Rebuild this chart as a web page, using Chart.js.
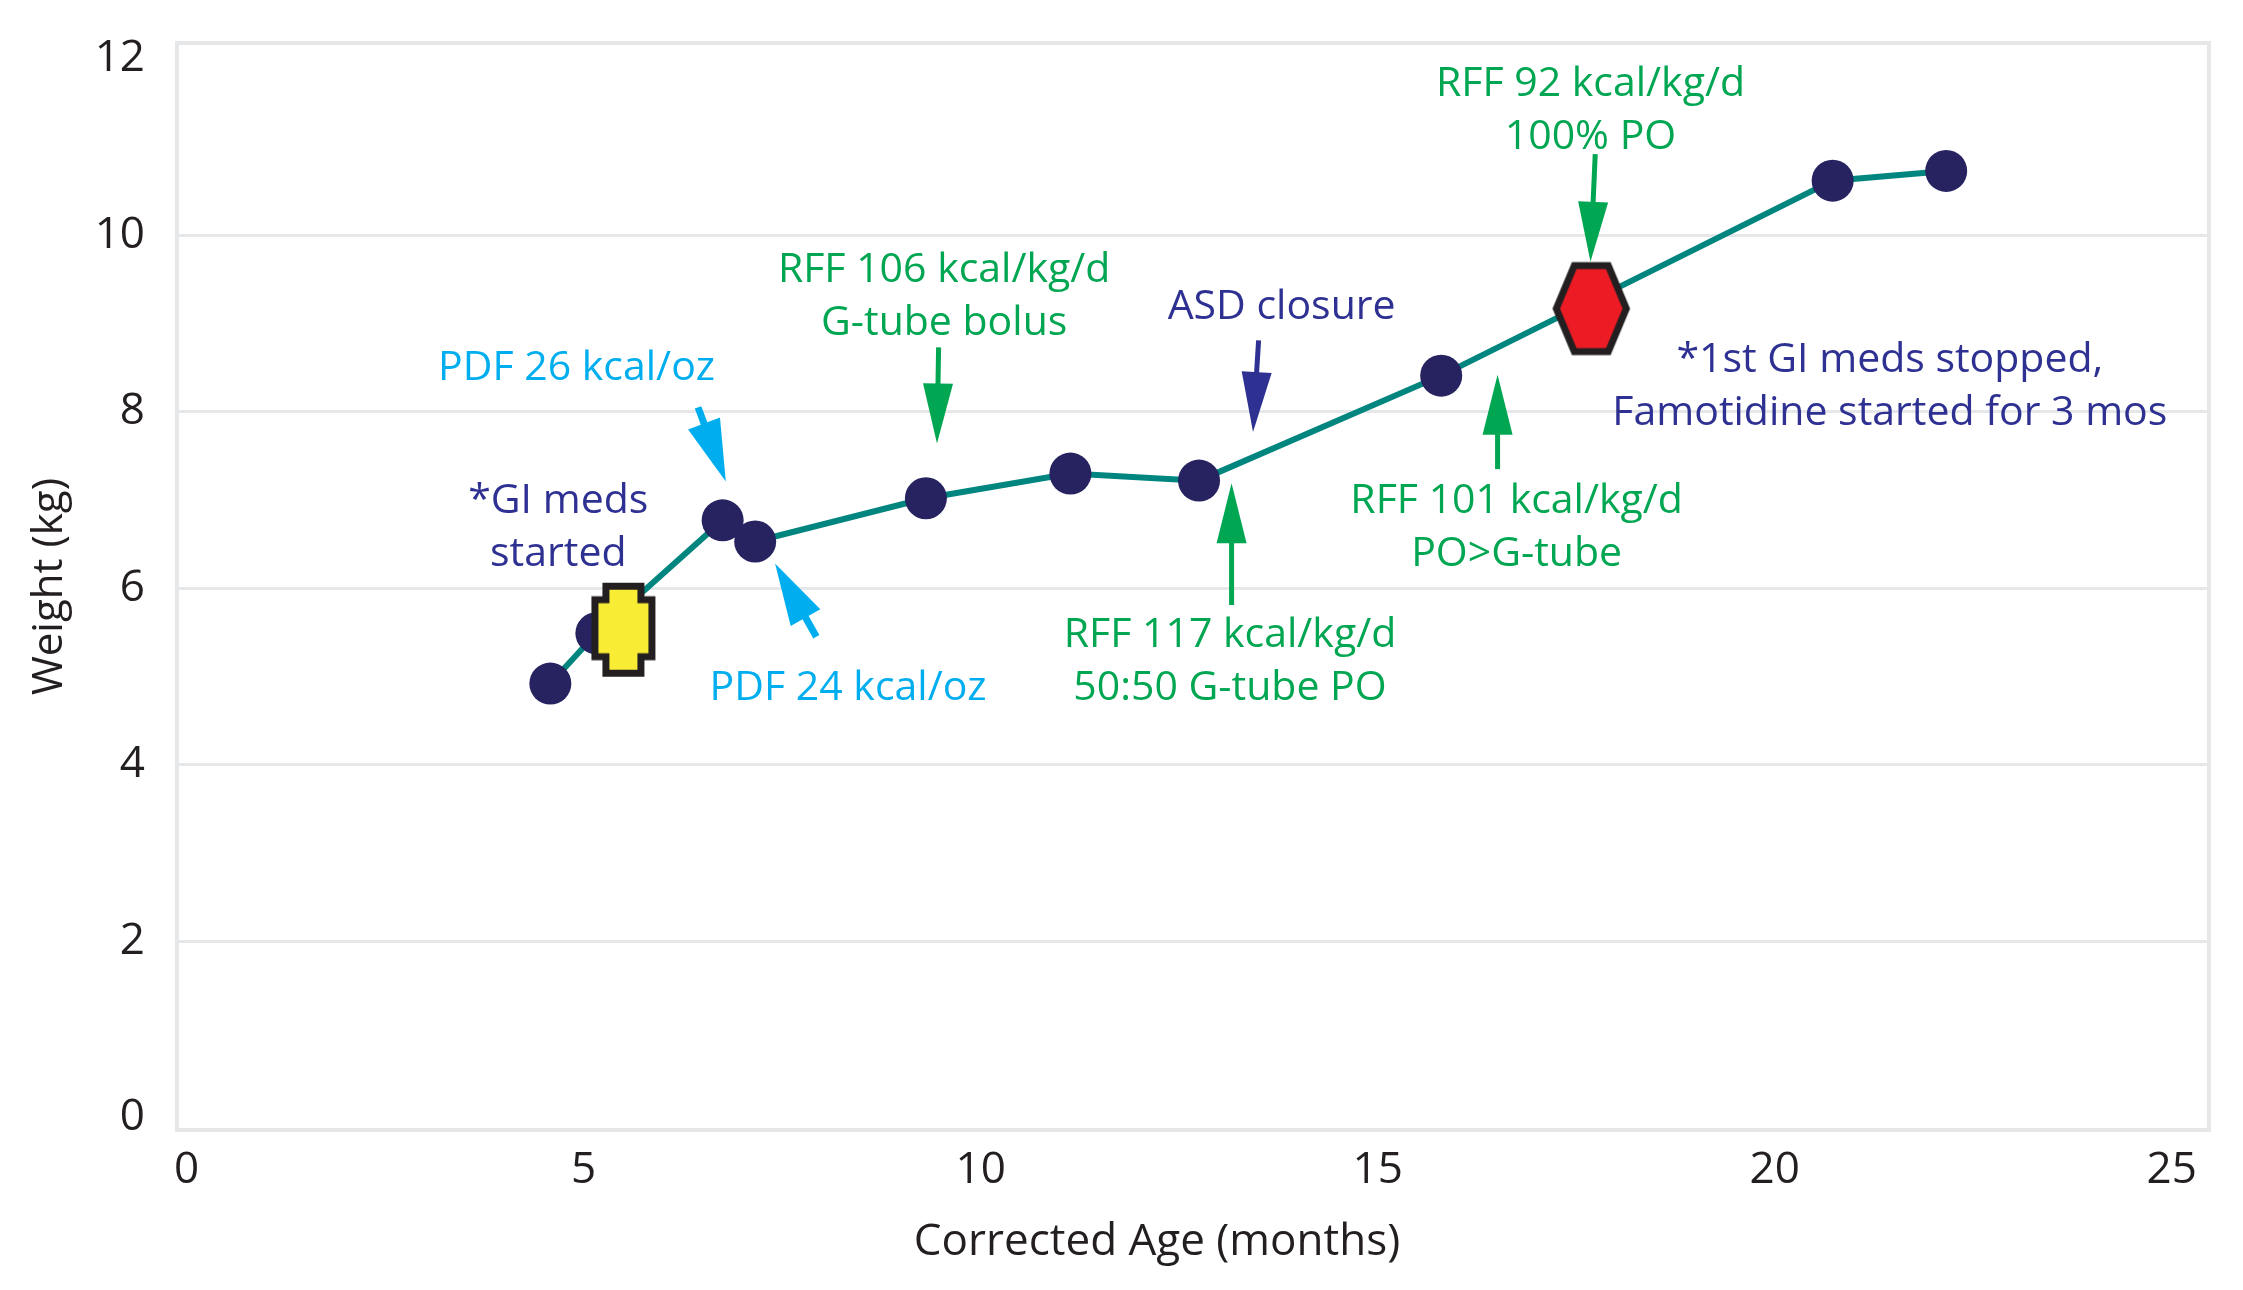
<!DOCTYPE html>
<html>
<head>
<meta charset="utf-8">
<title>Weight vs corrected age</title>
<script src="https://cdn.jsdelivr.net/npm/chart.js@4/dist/chart.umd.min.js"></script>
<style>
  html, body { margin: 0; padding: 0; background: #ffffff; }
  #wrap { width: 2243px; height: 1290px; }
</style>
</head>
<body>
<div id="wrap"><canvas id="growthChart" width="2243" height="1290"></canvas></div>
<script>
// ==========================================
// DATA
// ==========================================

// Weight measurements
const ageMonths = [4.58, 5.16, 6.75, 7.16, 9.31, 11.13, 12.75, 15.80, 20.73, 22.16];
const weightKg  = [4.92, 5.49, 6.77, 6.53, 7.02, 7.30, 7.22, 8.41, 10.62, 10.73];

// Event markers (GI meds started / stopped)
const giStartAge = [5.50];
const giStartWeight = [5.53];
const giStopAge = [17.69];
const giStopWeight = [9.17];

// Axis ticks
const xTickValues = [0, 5, 10, 15, 20, 25];
const yTickValues = [0, 2, 4, 6, 8, 10, 12];

// Annotation texts, anchored in data units (centre of first line)
const noteLines = [
    ['*GI meds', 'started'],
    ['PDF 26 kcal/oz'],
    ['PDF 24 kcal/oz'],
    ['RFF 106 kcal/kg/d', 'G-tube bolus'],
    ['ASD closure'],
    ['RFF 117 kcal/kg/d', '50:50 G-tube PO'],
    ['RFF 101 kcal/kg/d', 'PO>G-tube'],
    ['RFF 92 kcal/kg/d', '100% PO'],
    ['*1st GI meds stopped,', 'Famotidine started for 3 mos']
];
const noteX = [4.68, 4.91, 8.33, 9.54, 13.79, 13.14, 16.75, 17.68, 21.45];
const noteY = [6.99, 8.49, 4.87, 9.60, 9.18, 5.47, 6.98, 11.71, 8.58];
const noteKind = ['navy', 'cyan', 'cyan', 'green', 'navy', 'green', 'green', 'green', 'navy'];

// Arrows: tail -> tip, in data units
const arrowFromX = [6.44, 7.93, 9.47, 13.50, 13.16, 16.51, 17.74];
const arrowFromY = [8.05, 5.45, 8.73, 8.81, 5.81, 7.35, 10.92];
const arrowToX   = [6.79, 7.41, 9.45, 13.43, 13.16, 16.51, 17.68];
const arrowToY   = [7.21, 6.28, 7.64, 7.77, 7.19, 8.42, 9.70];
const arrowKind  = ['cyan', 'cyan', 'green', 'navy', 'green', 'green', 'green'];

const xTitle = 'Corrected Age (months)';
const yTitle = 'Weight (kg)';

// ==========================================
// STYLES
// ==========================================

const COLORS = {
    navy: '#2e3192',
    green: '#00a651',
    cyan: '#00aeef',
    line: '#00857f',
    point: '#272361',
    frame: '#e6e7e8',
    text: '#231f20'
};
const ARROW_SIZE = {
    cyan:  { head: 62, half: 17, shaft: 7 },
    green: { head: 60, half: 15, shaft: 5 },
    navy:  { head: 60, half: 15, shaft: 5 }
};
const FONT = '"Open Sans", "Noto Sans", sans-serif';

// Yellow "blocky" marker
function makeStartMarker() {
    const c = document.createElement('canvas');
    c.width = 66; c.height = 96;
    const g = c.getContext('2d');
    const cx = 33, cy = 48;
    g.beginPath();
    g.moveTo(cx - 17.5, cy - 43.5);
    g.lineTo(cx + 17.5, cy - 43.5);
    g.lineTo(cx + 17.5, cy - 30);
    g.lineTo(cx + 28.5, cy - 30);
    g.lineTo(cx + 28.5, cy + 27);
    g.lineTo(cx + 17.5, cy + 27);
    g.lineTo(cx + 17.5, cy + 43.5);
    g.lineTo(cx - 17.5, cy + 43.5);
    g.lineTo(cx - 17.5, cy + 27);
    g.lineTo(cx - 28.5, cy + 27);
    g.lineTo(cx - 28.5, cy - 30);
    g.lineTo(cx - 17.5, cy - 30);
    g.closePath();
    g.fillStyle = '#f9ec35';
    g.fill();
    g.lineWidth = 7;
    g.lineJoin = 'miter';
    g.strokeStyle = COLORS.text;
    g.stroke();
    return c;
}

// Red hexagon marker
function makeStopMarker() {
    const c = document.createElement('canvas');
    c.width = 80; c.height = 96;
    const g = c.getContext('2d');
    const cx = 40, cy = 48;
    g.beginPath();
    g.moveTo(cx - 17, cy - 43);
    g.lineTo(cx + 17, cy - 43);
    g.lineTo(cx + 35, cy);
    g.lineTo(cx + 17, cy + 43);
    g.lineTo(cx - 17, cy + 43);
    g.lineTo(cx - 35, cy);
    g.closePath();
    g.fillStyle = '#ed1c24';
    g.fill();
    g.lineWidth = 7;
    g.lineJoin = 'miter';
    g.strokeStyle = COLORS.text;
    g.stroke();
    return c;
}

// ==========================================
// PLUGINS
// ==========================================

// Top and right sides of the frame
const framePlugin = {
    id: 'frame',
    beforeDatasetsDraw(chart) {
        const { ctx, chartArea: a } = chart;
        ctx.save();
        ctx.strokeStyle = COLORS.frame;
        ctx.lineWidth = 4;
        ctx.beginPath();
        ctx.moveTo(a.left - 2, a.top);
        ctx.lineTo(a.right, a.top);
        ctx.lineTo(a.right, a.bottom + 2);
        ctx.stroke();
        ctx.restore();
    }
};

// Arrows, text notes and the x title (sits left of centre in the original)
const notesPlugin = {
    id: 'notes',
    afterDatasetsDraw(chart) {
        const { ctx, scales: { x, y } } = chart;
        ctx.save();

        arrowKind.forEach((kind, i) => {
            const x0 = x.getPixelForValue(arrowFromX[i]);
            const y0 = y.getPixelForValue(arrowFromY[i]);
            const x1 = x.getPixelForValue(arrowToX[i]);
            const y1 = y.getPixelForValue(arrowToY[i]);
            const s = ARROW_SIZE[kind];
            const len = Math.hypot(x1 - x0, y1 - y0);
            const ux = (x1 - x0) / len, uy = (y1 - y0) / len;
            const bx = x1 - ux * s.head, by = y1 - uy * s.head;

            ctx.strokeStyle = COLORS[kind];
            ctx.fillStyle = COLORS[kind];
            ctx.lineWidth = s.shaft;
            ctx.beginPath();
            ctx.moveTo(x0, y0);
            ctx.lineTo(bx + ux * 2, by + uy * 2);
            ctx.stroke();

            ctx.beginPath();
            ctx.moveTo(x1, y1);
            ctx.lineTo(bx - uy * s.half, by + ux * s.half);
            ctx.lineTo(bx + uy * s.half, by - ux * s.half);
            ctx.closePath();
            ctx.fill();
        });

        ctx.font = '41px ' + FONT;
        ctx.textAlign = 'center';
        ctx.textBaseline = 'middle';
        noteLines.forEach((lines, i) => {
            const px = x.getPixelForValue(noteX[i]);
            const py = y.getPixelForValue(noteY[i]);
            ctx.fillStyle = COLORS[noteKind[i]];
            lines.forEach((t, k) => ctx.fillText(t, px, py + k * 53));
        });

        ctx.font = '44px ' + FONT;
        ctx.fillStyle = COLORS.text;
        ctx.fillText(xTitle, x.getPixelForValue(12.22), x.bottom - 48);
        ctx.restore();
    }
};

// ==========================================
// CHART
// ==========================================

const ctx = document.getElementById('growthChart').getContext('2d');
const growthChart = new Chart(ctx, {
    type: 'scatter',
    data: {
        datasets: [
            {
                label: 'GI meds started',
                data: giStartAge.map((v, i) => ({ x: v, y: giStartWeight[i] })),
                pointStyle: makeStartMarker(),
                order: 0
            },
            {
                label: 'GI meds stopped',
                data: giStopAge.map((v, i) => ({ x: v, y: giStopWeight[i] })),
                pointStyle: makeStopMarker(),
                order: 0
            },
            {
                label: 'Weight',
                data: ageMonths.map((v, i) => ({ x: v, y: weightKg[i] })),
                showLine: true,
                borderColor: COLORS.line,
                borderWidth: 6,
                backgroundColor: COLORS.point,
                pointBackgroundColor: COLORS.point,
                pointBorderWidth: 0,
                pointRadius: 21,
                tension: 0,
                order: 1
            }
        ]
    },
    options: {
        responsive: false,
        devicePixelRatio: 1,
        animation: false,
        layout: {
            padding: { top: 43, right: 34, left: 0, bottom: 0 }
        },
        plugins: {
            legend: { display: false },
            tooltip: { enabled: false }
        },
        scales: {
            x: {
                type: 'linear',
                min: -0.122,
                max: 25.47,
                afterBuildTicks: (scale) => {
                    scale.ticks = xTickValues.map(v => ({ value: v }));
                },
                afterFit: (scale) => {
                    scale.height = 160;
                    scale.paddingLeft = 0;
                    scale.paddingRight = 0;
                },
                grid: { display: false, drawTicks: false },
                border: { display: true, color: COLORS.frame, width: 4 },
                ticks: {
                    padding: 14,
                    color: COLORS.text,
                    font: { family: FONT, size: 44 },
                    maxRotation: 0
                },
                title: { display: false, text: xTitle }
            },
            y: {
                type: 'linear',
                min: -0.14,
                max: 12.18,
                afterBuildTicks: (scale) => {
                    scale.ticks = yTickValues.map(v => ({ value: v }));
                },
                afterFit: (scale) => {
                    scale.width = 177;
                    scale.paddingTop = 0;
                    scale.paddingBottom = 0;
                },
                grid: {
                    drawTicks: false,
                    lineWidth: 3,
                    color: (c) => (c.tick && (c.tick.value === 0 || c.tick.value === 12)) ? 'rgba(0,0,0,0)' : COLORS.frame
                },
                border: { display: true, color: COLORS.frame, width: 4 },
                ticks: {
                    padding: 32,
                    color: COLORS.text,
                    font: { family: FONT, size: 44 }
                },
                title: {
                    display: true,
                    text: yTitle,
                    color: COLORS.text,
                    font: { family: FONT, size: 42 },
                    padding: { top: 25, bottom: 0 }
                }
            }
        }
    },
    plugins: [framePlugin, notesPlugin]
});
</script>
</body>
</html>
